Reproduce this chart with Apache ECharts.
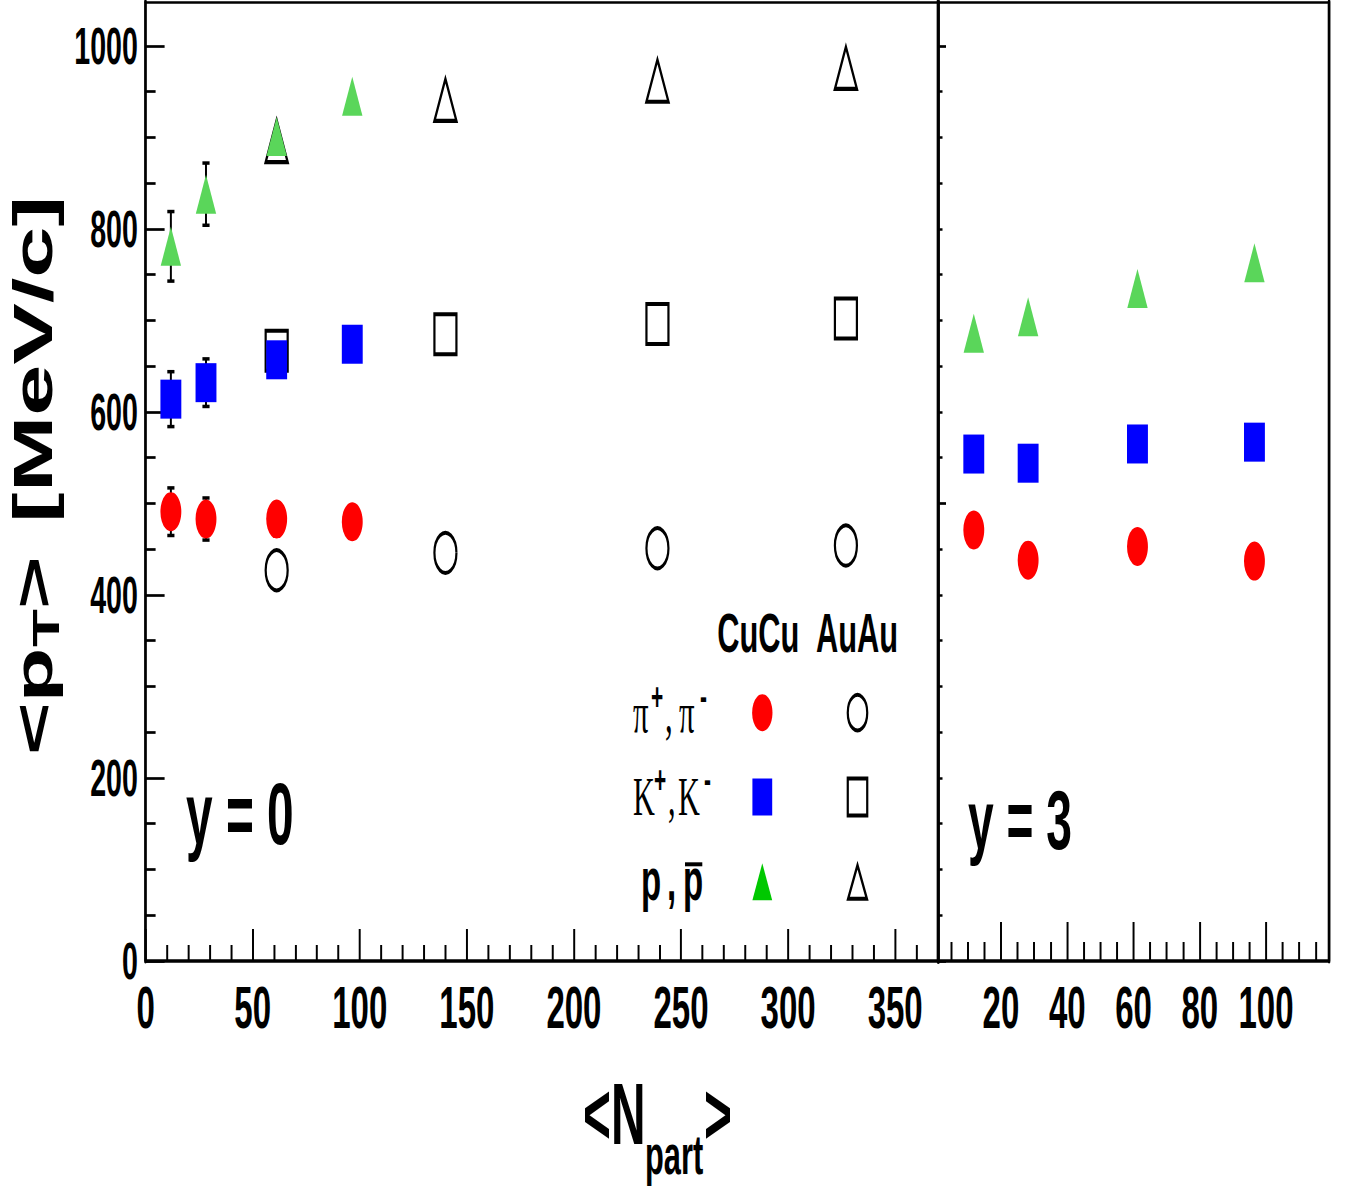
<!DOCTYPE html>
<html>
<head>
<meta charset="utf-8">
<script src="https://cdn.jsdelivr.net/npm/echarts@6/dist/echarts.min.js"></script>
<style>
  html, body { margin: 0; padding: 0; overflow: hidden; background: #fff; width: 1351px; height: 1188px; }
  #wrap { position: absolute; left: 0; top: 0; width: 1351px; height: 1188px; overflow: hidden; }
  #chart { position: absolute; left: 0; top: 0; height: 1188px; transform-origin: 0 0; }
</style>
</head>
<body>
<div id="wrap"><div id="chart"></div></div>
<script>
// ---- data -------------------------------------------------------------
// <Npart> of the centrality classes
const npartCuCu = [11.8, 28.2, 61.2, 96.5];
const npartAuAu = [61.2, 140, 239, 327];

// <pT> [MeV/c] at mid-rapidity (y = 0)
const pionCuCuY0   = [491, 483, 483, 480];
const kaonCuCuY0   = [614, 632, 657, 674];
const protonCuCuY0 = [781, 838, 901, 945];
const pionErrCuCuY0   = [26, 23, null, null];
const kaonErrCuCuY0   = [30, 26, null, null];
const protonErrCuCuY0 = [38, 34, null, null];

const pionAuAuY0   = [427, 446, 451, 454];
const kaonAuAuY0   = [667, 685, 696, 702];
const protonAuAuY0 = [896, 941, 962, 976];

// <pT> [MeV/c] at forward rapidity (y = 3), CuCu
const pionCuCuY3   = [471, 438, 453, 437];
const kaonCuCuY3   = [554, 544, 565, 567];
const protonCuCuY3 = [686, 704, 735, 763];

// tick labels
const xTicksY0 = [0, 50, 100, 150, 200, 250, 300, 350];
const xTicksY3 = [20, 40, 60, 80, 100];
const yTicks   = [0, 200, 400, 600, 800, 1000];

// ---- geometry ---------------------------------------------------------
// The figure is drawn wide and then compressed horizontally by SQ,
// giving the tall, narrow glyphs and markers of the original canvas.
const SQ = 0.55;
const W = Math.ceil(1351 / SQ);
const px = v => v / SQ;        // screen-x -> drawing-x

const chartEl = document.getElementById('chart');
chartEl.style.width = W + 'px';
chartEl.style.transform = 'scaleX(' + SQ + ')';

const Y_MAX = 1048;
const gridL = { left: px(145.6), top: 2, width: px(938.0) - px(145.6), height: 959 };
const gridR = { left: px(938.0), top: 2, width: px(1329.0) - px(938.0), height: 959 };

function range(a, b, step, skip) {
  const out = [];
  for (let v = a; v <= b + 1e-9; v += step) if (!skip || v % skip !== 0) out.push(v);
  return out;
}
const xMinorY0 = range(10, 360, 10, 50);
const xMinorY3 = range(5, 115, 5, 20);
const yMinorL  = range(50, 1000, 50, 200);
const yMinorR  = range(50, 1000, 50, 500);

const pairs = (xs, ys) => xs.map((x, i) => [x, ys[i]]);
function errRows(xs, ys, es) {
  const rows = [];
  es.forEach((e, i) => { if (e != null) rows.push([xs[i], ys[i] - e, ys[i] + e]); });
  return rows;
}

const BLACK = '#000';
const SANS = "'Liberation Sans', Arial, sans-serif";
const NARROW = "'Liberation Sans Narrow', 'Liberation Sans', Arial, sans-serif";
const SERIF = "'Liberation Serif', 'Times New Roman', serif";
const plain = v => String(v);

const yLabelStyle = { fontFamily: SANS, fontWeight: 'bold', fontSize: 52, color: BLACK, margin: 14, formatter: plain };
const xLabelStyle = { fontFamily: NARROW, fontWeight: 'bold', fontSize: 60, color: BLACK, margin: 16, formatter: plain };

function baseAxis(extra) {
  return Object.assign({
    type: 'value', splitLine: { show: false }, axisLine: { show: false, onZero: false },
    axisTick: { show: false }, axisLabel: { show: false }
  }, extra);
}

// ---- error bars -------------------------------------------------------
function errorBar(params, api) {
  const x = api.value(0);
  const lo = api.coord([x, api.value(1)]);
  const hi = api.coord([x, api.value(2)]);
  const hw = 6.5;
  const st = { stroke: BLACK, lineWidth: 3.6 };
  const cap = { stroke: BLACK, lineWidth: 3.5 };
  return {
    type: 'group',
    children: [
      { type: 'line', shape: { x1: hi[0], y1: hi[1], x2: lo[0], y2: lo[1] }, style: st },
      { type: 'line', shape: { x1: hi[0] - hw, y1: hi[1], x2: hi[0] + hw, y2: hi[1] }, style: cap },
      { type: 'line', shape: { x1: lo[0] - hw, y1: lo[1], x2: lo[0] + hw, y2: lo[1] }, style: cap }
    ]
  };
}

// ---- markers ----------------------------------------------------------
const RED = '#ff0000', BLUE = '#0000ff', GREEN = '#5ad65a', LEGEND_GREEN = '#00c800';
const openStyle = { color: 'rgba(0,0,0,0)', borderColor: BLACK, borderWidth: 4, opacity: 1 };

function scatter(name, data, xi, yi, symbol, size, itemStyle) {
  return {
    name, type: 'scatter', data, xAxisIndex: xi, yAxisIndex: yi,
    symbol, symbolSize: size, itemStyle: Object.assign({ opacity: 1 }, itemStyle),
    silent: true, animation: false
  };
}

// ---- annotation text --------------------------------------------------
function txt(x, y, text, size, family, weight, extra) {
  return Object.assign({
    type: 'text', x: px(x), y: y, silent: true,
    style: {
      text, fontSize: size, fontFamily: family, fontWeight: weight || 'normal', fill: BLACK,
      align: 'left', verticalAlign: 'middle', textAlign: 'left', textVerticalAlign: 'middle'
    }
  }, extra || {});
}
function ttxt(x, y, text, size) {
  return { type: 'text', x: x, y: y, style: { text, fontSize: size, fontFamily: SANS, fontWeight: 'bold', fill: BLACK, align: 'left', verticalAlign: 'middle' } };
}

const legendX1 = px(762.3), legendX2 = px(857.5);
const rowY = [712.7, 797, 881.7];

const graphics = [
  // panel tags
  txt(186, 814, 'y = 0', 87, SANS, 'bold'),
  txt(968, 820, 'y = 3', 84, SANS, 'bold'),

  // legend header
  txt(717.3, 632.5, 'CuCu', 56, SANS, 'bold'),
  txt(816, 632.5, 'AuAu', 56, SANS, 'bold'),

  // legend row labels
  txt(633, 713, 'π', 56, SERIF),
  txt(651, 696, '+', 38, SANS, 'bold'),
  txt(665, 713, ',', 56, SERIF),
  txt(679, 713, 'π', 56, SERIF),
  txt(700, 696, '-', 38, SANS, 'bold'),

  txt(633, 796, 'K', 55, SERIF),
  txt(654, 779, '+', 38, SANS, 'bold'),
  txt(668, 796, ',', 55, SERIF),
  txt(678, 796, 'K', 55, SERIF),
  txt(704, 779, '-', 38, SANS, 'bold'),

  txt(641, 879, 'p', 60, SANS, 'bold'),
  txt(667, 879, ',', 60, SANS, 'bold'),
  txt(683, 879, 'p', 60, SANS, 'bold'),
  { type: 'rect', silent: true, shape: { x: px(685), y: 862.3, width: px(702.3) - px(685), height: 4 }, style: { fill: BLACK } },

  // legend markers
  { type: 'circle', silent: true, shape: { cx: legendX1, cy: rowY[0], r: 18.5 }, style: { fill: RED } },
  { type: 'circle', silent: true, shape: { cx: legendX2, cy: rowY[0], r: 17.7 }, style: { fill: 'none', stroke: BLACK, lineWidth: 4 } },
  { type: 'rect', silent: true, shape: { x: legendX1 - 18, y: rowY[1] - 18.5, width: 36, height: 37 }, style: { fill: BLUE } },
  { type: 'rect', silent: true, shape: { x: legendX2 - 17.7, y: rowY[1] - 18.5, width: 35.4, height: 37 }, style: { fill: 'none', stroke: BLACK, lineWidth: 4 } },
  { type: 'polygon', silent: true, shape: { points: [[legendX1, rowY[2] - 18.5], [legendX1 - 18, rowY[2] + 18.5], [legendX1 + 18, rowY[2] + 18.5]] }, style: { fill: LEGEND_GREEN } },
  { type: 'polygon', silent: true, shape: { points: [[legendX2, rowY[2] - 16.5], [legendX2 - 17, rowY[2] + 17], [legendX2 + 17, rowY[2] + 17]] }, style: { fill: 'none', stroke: BLACK, lineWidth: 4 } },

  // x-axis title  <N_part>
  txt(583, 1114, '<N', 87, SANS, 'bold'),
  txt(645, 1155, 'part', 56, SANS, 'bold'),
  txt(704, 1114, '>', 87, SANS, 'bold'),

  // y-axis title  <p_T>  [MeV/c]  (reads bottom to top)
  {
    type: 'group', x: px(33), y: 755, rotation: Math.PI / 2, scaleY: 1.1, silent: true,
    children: [
      ttxt(0, 0, '<p', 90),
      ttxt(108, 22, 'T', 62),
      ttxt(146, 0, '>', 90),
      ttxt(232, 0, '[MeV/c]', 92)
    ]
  }
];

// ---- option -----------------------------------------------------------
const gridBase = { show: false, containLabel: false, outerBoundsMode: 'none' };
const option = {
  backgroundColor: '#fff',
  animation: false,
  grid: [
    Object.assign({}, gridBase, gridL),
    Object.assign({}, gridBase, gridL),
    Object.assign({}, gridBase, gridR),
    Object.assign({}, gridBase, gridR)
  ],
  xAxis: [
    // y = 0 panel
    baseAxis({ gridIndex: 0, position: 'bottom', min: 0, max: 370,
      axisLine: { show: true, onZero: false, lineStyle: { color: BLACK, width: 3.5 } },
      axisTick: { show: true, inside: true, length: 32, customValues: xTicksY0, lineStyle: { color: BLACK, width: 3.6 } },
      axisLabel: Object.assign({ show: true, customValues: xTicksY0 }, xLabelStyle) }),
    baseAxis({ gridIndex: 0, position: 'top', min: 0, max: 370,
      axisLine: { show: true, onZero: false, lineStyle: { color: BLACK, width: 2.7 } } }),
    baseAxis({ gridIndex: 1, position: 'bottom', min: 0, max: 370,
      axisTick: { show: true, inside: true, length: 16, customValues: xMinorY0, lineStyle: { color: BLACK, width: 3.6 } } }),
    // y = 3 panel
    baseAxis({ gridIndex: 2, position: 'bottom', min: 1, max: 119,
      axisLine: { show: true, onZero: false, lineStyle: { color: BLACK, width: 3.5 } },
      axisTick: { show: true, inside: true, length: 39, customValues: xTicksY3, lineStyle: { color: BLACK, width: 3.6 } },
      axisLabel: Object.assign({ show: true, customValues: xTicksY3 }, xLabelStyle) }),
    baseAxis({ gridIndex: 2, position: 'top', min: 1, max: 119,
      axisLine: { show: true, onZero: false, lineStyle: { color: BLACK, width: 2.7 } } }),
    baseAxis({ gridIndex: 3, position: 'bottom', min: 1, max: 119,
      axisTick: { show: true, inside: true, length: 19, customValues: xMinorY3, lineStyle: { color: BLACK, width: 3.6 } } })
  ],
  yAxis: [
    baseAxis({ gridIndex: 0, position: 'left', min: 0, max: Y_MAX,
      axisLine: { show: true, onZero: false, lineStyle: { color: BLACK, width: 5 } },
      axisTick: { show: true, inside: true, length: px(19), customValues: yTicks, lineStyle: { color: BLACK, width: 2.7 } },
      axisLabel: Object.assign({ show: true, customValues: yTicks }, yLabelStyle) }),
    baseAxis({ gridIndex: 0, position: 'right', min: 0, max: Y_MAX,
      axisLine: { show: true, onZero: false, lineStyle: { color: BLACK, width: 6 } } }),
    baseAxis({ gridIndex: 1, position: 'left', min: 0, max: Y_MAX,
      axisTick: { show: true, inside: true, length: px(10), customValues: yMinorL, lineStyle: { color: BLACK, width: 2.7 } } }),
    baseAxis({ gridIndex: 2, position: 'left', min: 0, max: Y_MAX,
      axisTick: { show: true, inside: true, length: px(8), customValues: [0, 500, 1000], lineStyle: { color: BLACK, width: 2.7 } } }),
    baseAxis({ gridIndex: 2, position: 'right', min: 0, max: Y_MAX,
      axisLine: { show: true, onZero: false, lineStyle: { color: BLACK, width: 5 } } }),
    baseAxis({ gridIndex: 3, position: 'left', min: 0, max: Y_MAX,
      axisTick: { show: true, inside: true, length: px(4.5), customValues: yMinorR, lineStyle: { color: BLACK, width: 2.5 } } })
  ],
  series: [
    // y = 0, AuAu (open markers, drawn underneath)
    scatter('AuAu π', pairs(npartAuAu, pionAuAuY0), 0, 0, 'circle', 40, openStyle),
    scatter('AuAu K', pairs(npartAuAu, kaonAuAuY0), 0, 0, 'rect', 40, openStyle),
    scatter('AuAu p', pairs(npartAuAu, protonAuAuY0), 0, 0, 'triangle', [40, 42], openStyle),
    // y = 0, CuCu error bars
    { type: 'custom', xAxisIndex: 0, yAxisIndex: 0, renderItem: errorBar, silent: true, animation: false,
      data: errRows(npartCuCu, pionCuCuY0, pionErrCuCuY0)
        .concat(errRows(npartCuCu, kaonCuCuY0, kaonErrCuCuY0))
        .concat(errRows(npartCuCu, protonCuCuY0, protonErrCuCuY0)) },
    // y = 0, CuCu
    scatter('CuCu π', pairs(npartCuCu, pionCuCuY0), 0, 0, 'circle', [38, 39], { color: RED }),
    scatter('CuCu K', pairs(npartCuCu, kaonCuCuY0), 0, 0, 'rect', [38, 39], { color: BLUE }),
    scatter('CuCu p', pairs(npartCuCu, protonCuCuY0), 0, 0, 'triangle', [37, 39], { color: GREEN }),
    // y = 3, CuCu
    scatter('CuCu π y3', pairs(npartCuCu, pionCuCuY3), 3, 3, 'circle', [38, 39], { color: RED }),
    scatter('CuCu K y3', pairs(npartCuCu, kaonCuCuY3), 3, 3, 'rect', [38, 39], { color: BLUE }),
    scatter('CuCu p y3', pairs(npartCuCu, protonCuCuY3), 3, 3, 'triangle', [37, 39], { color: GREEN })
  ],
  graphic: { elements: graphics }
};

const chart = echarts.init(chartEl, null, { renderer: 'svg', width: W, height: 1188 });
chart.setOption(option);
</script>
</body>
</html>
